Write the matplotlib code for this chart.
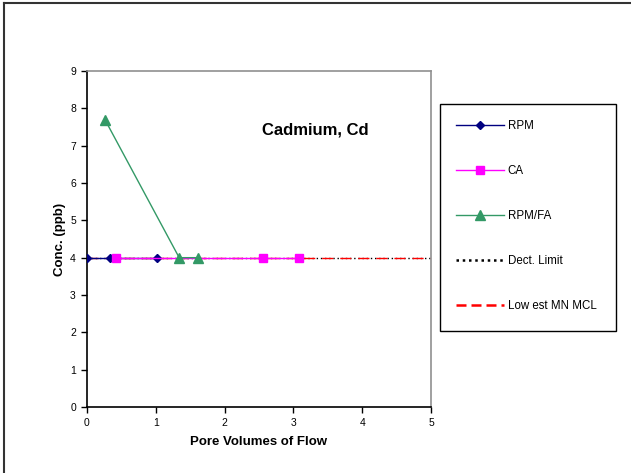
import matplotlib
matplotlib.use("Agg")
import matplotlib.pyplot as plt
from matplotlib.patches import Rectangle
from matplotlib.lines import Line2D

plt.rcParams['font.family'] = ['Liberation Sans', 'DejaVu Sans']

rpm_x = [0.0, 0.34, 1.02]
rpm_y = [4, 4, 4]
ca_x = [0.42, 2.56, 3.08]
ca_y = [4, 4, 4]
fa_x = [0.26, 1.34, 1.61]
fa_y = [7.7, 4, 4]
dect_x = [0, 5]
dect_y = [4, 4]
mcl_x = [0, 5]
mcl_y = [4, 4]
x_ticks = [0, 1, 2, 3, 4, 5]
y_ticks = [0, 1, 2, 3, 4, 5, 6, 7, 8, 9]

W, H = 631, 473
fig = plt.figure(figsize=(W / 100, H / 100), dpi=100)
ax = fig.add_axes([87 / W, 1 - 407 / H, (431 - 87) / W, (407 - 71) / H])

ax.plot(dect_x, dect_y, color='black', linestyle=(0, (1, 2)), linewidth=1.0,
        label='Dect. Limit', zorder=2)
ax.plot(mcl_x, mcl_y, color='#FF0000', linestyle=(0, (8, 5)), linewidth=1.0,
        label='Lowest MN MCL', zorder=2)
ax.plot(rpm_x, rpm_y, color='#000080', marker='D', markersize=4.5, linewidth=1.0,
        label='RPM', zorder=3)
ax.plot(ca_x, ca_y, color='#FF00FF', marker='s', markersize=5.5, linewidth=1.0,
        label='CA', zorder=3)
ax.plot(fa_x, fa_y, color='#339966', marker='^', markersize=6.5, linewidth=1.0,
        label='RPM/FA', zorder=4)

ax.set_xlim(0, 5)
ax.set_ylim(0, 9)
ax.set_xticks(x_ticks)
ax.set_yticks(y_ticks)
ax.tick_params(labelsize=7.5, length=4, width=1, direction='out', pad=4)
for s in ['left', 'bottom']:
    ax.spines[s].set_color('black')
    ax.spines[s].set_linewidth(1.2)
for s in ['top', 'right']:
    ax.spines[s].set_color('#909090')
    ax.spines[s].set_linewidth(1.2)

ax.set_xlabel('Pore Volumes of Flow', fontsize=9.5, fontweight='bold', labelpad=6)
ax.set_ylabel('Conc. (ppb)', fontsize=9.5, fontweight='bold', labelpad=3)

fig.text(315 / W, 1 - 130 / H, 'Cadmium, Cd', fontsize=12, fontweight='bold',
         ha='center', va='center')

# legend box
fig.patches.append(Rectangle((440 / W, 1 - 331 / H), 176 / W, 227 / H,
                             transform=fig.transFigure, fill=False,
                             edgecolor='black', linewidth=1.0))
h = {l.get_label(): l for l in ax.get_lines()}
order = ['RPM', 'CA', 'RPM/FA', 'Dect. Limit', 'Lowest MN MCL']
shown = ['RPM', 'CA', 'RPM/FA', 'Dect. Limit', 'Low est MN MCL']
handles = []
for k in order:
    l = h[k]
    if k == 'Dect. Limit':
        handles.append(Line2D([], [], color=l.get_color(), linestyle=(0, (1, 1.5)),
                              linewidth=1.8))
    elif k == 'Lowest MN MCL':
        handles.append(Line2D([], [], color=l.get_color(), linestyle=(0, (4, 2)),
                              linewidth=1.8))
    else:
        handles.append(Line2D([], [], color=l.get_color(), linestyle='-',
                              linewidth=1.0, marker=l.get_marker(),
                              markersize=l.get_markersize()))
leg = fig.legend(handles, shown, loc='center left',
                 bbox_to_anchor=(450 / W, 1 - 216 / H), frameon=False,
                 fontsize=8.3, labelspacing=2.85, handlelength=4.2,
                 handletextpad=0.3, borderpad=0)

# outer frame
fig.add_artist(Line2D([4 / W, 4 / W], [0, 1 - 3 / H], transform=fig.transFigure,
                      color='#333333', linewidth=1.5))
fig.add_artist(Line2D([4 / W, 1], [1 - 3 / H, 1 - 3 / H], transform=fig.transFigure,
                      color='#333333', linewidth=1.5))

fig.savefig('out.png', dpi=100)
